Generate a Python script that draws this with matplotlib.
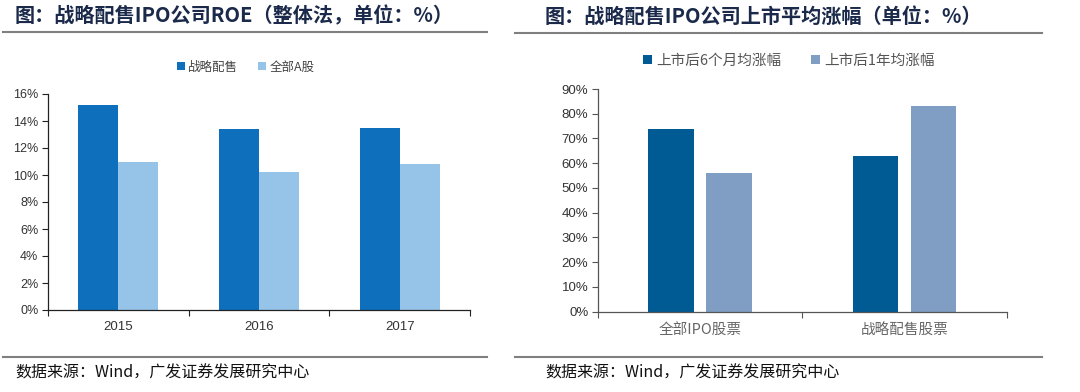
import matplotlib
matplotlib.use("Agg")
import matplotlib.pyplot as plt
import numpy as np
from matplotlib.lines import Line2D
from matplotlib.ticker import FuncFormatter, MultipleLocator

plt.rcParams['font.family'] = ['Noto Sans CJK SC', 'DejaVu Sans']

# ---- data ----
left_title = "图：战略配售IPO公司ROE（整体法，单位：%）"
left_categories = ["2015", "2016", "2017"]
left_series_names = ["战略配售", "全部A股"]
left_strategic = [15.2, 13.4, 13.5]
left_all_a = [11.0, 10.2, 10.8]

right_title = "图：战略配售IPO公司上市平均涨幅（单位：%）"
right_categories = ["全部IPO股票", "战略配售股票"]
right_series_names = ["上市后6个月均涨幅", "上市后1年均涨幅"]
right_6m = [74, 63]
right_1y = [56, 83]

source_text = "数据来源：Wind，广发证券发展研究中心"

W, H = 1080, 392
fig = plt.figure(figsize=(W / 100, H / 100), dpi=100)

def fx(px):
    return px / W

def fy(py):
    return 1 - py / H

title_color = "#1b2a4a"
line_color = "#7f7f7f"
tick_font = ['Liberation Sans', 'DejaVu Sans']

# ---------------- left chart ----------------
axL = fig.add_axes([fx(48), fy(310), fx(470 - 48), fy(94) - fy(310)])
x = np.arange(len(left_categories))
bw = 0.284
axL.bar(x - bw / 2, left_strategic, bw, color="#0e70bc", label=left_series_names[0])
axL.bar(x + bw / 2, left_all_a, bw, color="#96c3e8", label=left_series_names[1])
axL.set_ylim(0, 16)
axL.set_xlim(-0.5, len(left_categories) - 0.5)
axL.yaxis.set_major_locator(MultipleLocator(2))
axL.yaxis.set_major_formatter(FuncFormatter(lambda v, p: f"{int(round(v))}%"))
axL.set_xticks(np.arange(-0.5, len(left_categories), 1.0))
axL.set_xticklabels([])
axL.set_xticks(x, minor=True)
axL.set_xticklabels(left_categories, minor=True, fontsize=9.5, color="#333333",
                    family=tick_font)
axL.tick_params(axis='x', which='minor', length=0, pad=8)
axL.tick_params(axis='x', which='major', length=4, direction='out', color="#222222")
axL.tick_params(axis='y', length=4, direction='out', color="#222222", labelsize=9,
                labelcolor="#333333", pad=3)
for lab in axL.get_yticklabels():
    lab.set_family(tick_font)
for s in ['top', 'right']:
    axL.spines[s].set_visible(False)
for s in ['left', 'bottom']:
    axL.spines[s].set_color("#222222")
    axL.spines[s].set_linewidth(0.9)
axL.legend(loc='center', bbox_to_anchor=(fx(246), fy(67)), bbox_transform=fig.transFigure,
           ncol=2, frameon=False, fontsize=9, handlelength=0.6, handleheight=0.6,
           handletextpad=0.3, columnspacing=1.6, labelcolor="#444444")

# ---------------- right chart ----------------
axR = fig.add_axes([fx(598), fy(311.7), fx(1006.7 - 598), fy(89) - fy(311.7)])
xr = np.arange(len(right_categories))
bw2 = 0.223
off = 0.142
axR.bar(xr - off, right_6m, bw2, color="#005a94", label=right_series_names[0])
axR.bar(xr + off, right_1y, bw2, color="#809ec4", label=right_series_names[1])
axR.set_ylim(0, 90)
axR.set_xlim(-0.5, len(right_categories) - 0.5)
axR.yaxis.set_major_locator(MultipleLocator(10))
axR.yaxis.set_major_formatter(FuncFormatter(lambda v, p: f"{int(round(v))}%"))
axR.set_xticks(np.arange(-0.5, len(right_categories), 1.0))
axR.set_xticklabels([])
axR.set_xticks(xr, minor=True)
axR.set_xticklabels(right_categories, minor=True, fontsize=10.5, color="#666666")
axR.tick_params(axis='x', which='minor', length=0, pad=9)
axR.tick_params(axis='x', which='major', length=4, direction='out', color="#555555")
axR.tick_params(axis='y', length=4, direction='out', color="#555555", labelsize=9.5,
                labelcolor="#333333", pad=3)
for lab in axR.get_yticklabels():
    lab.set_family(tick_font)
for s in ['top', 'right']:
    axR.spines[s].set_visible(False)
for s in ['left', 'bottom']:
    axR.spines[s].set_color("#555555")
    axR.spines[s].set_linewidth(0.9)
axR.legend(loc='center', bbox_to_anchor=(fx(789), fy(61)), bbox_transform=fig.transFigure,
           ncol=2, frameon=False, fontsize=10.5, handlelength=0.6, handleheight=0.6,
           handletextpad=0.3, columnspacing=2.0, labelcolor="#555555")

# ---------------- titles, rules, sources ----------------
fig.text(fx(15), fy(16), left_title, fontsize=14.5, fontweight='bold', color=title_color,
         va='center', ha='left')
fig.text(fx(545), fy(16), right_title, fontsize=14.5, fontweight='bold', color=title_color,
         va='center', ha='left')

for (x0, x1, yy) in [(3, 487, 32), (515, 1042, 33), (3, 487, 356.7), (515, 1042, 356.7)]:
    fig.add_artist(Line2D([fx(x0), fx(x1)], [fy(yy), fy(yy)], color=line_color,
                          linewidth=1.5, transform=fig.transFigure))

fig.text(fx(15), fy(373), source_text, fontsize=11.5, color="#111111", va='center', ha='left')
fig.text(fx(545), fy(373), source_text, fontsize=11.5, color="#111111", va='center', ha='left')

fig.savefig("out.png", dpi=100)
